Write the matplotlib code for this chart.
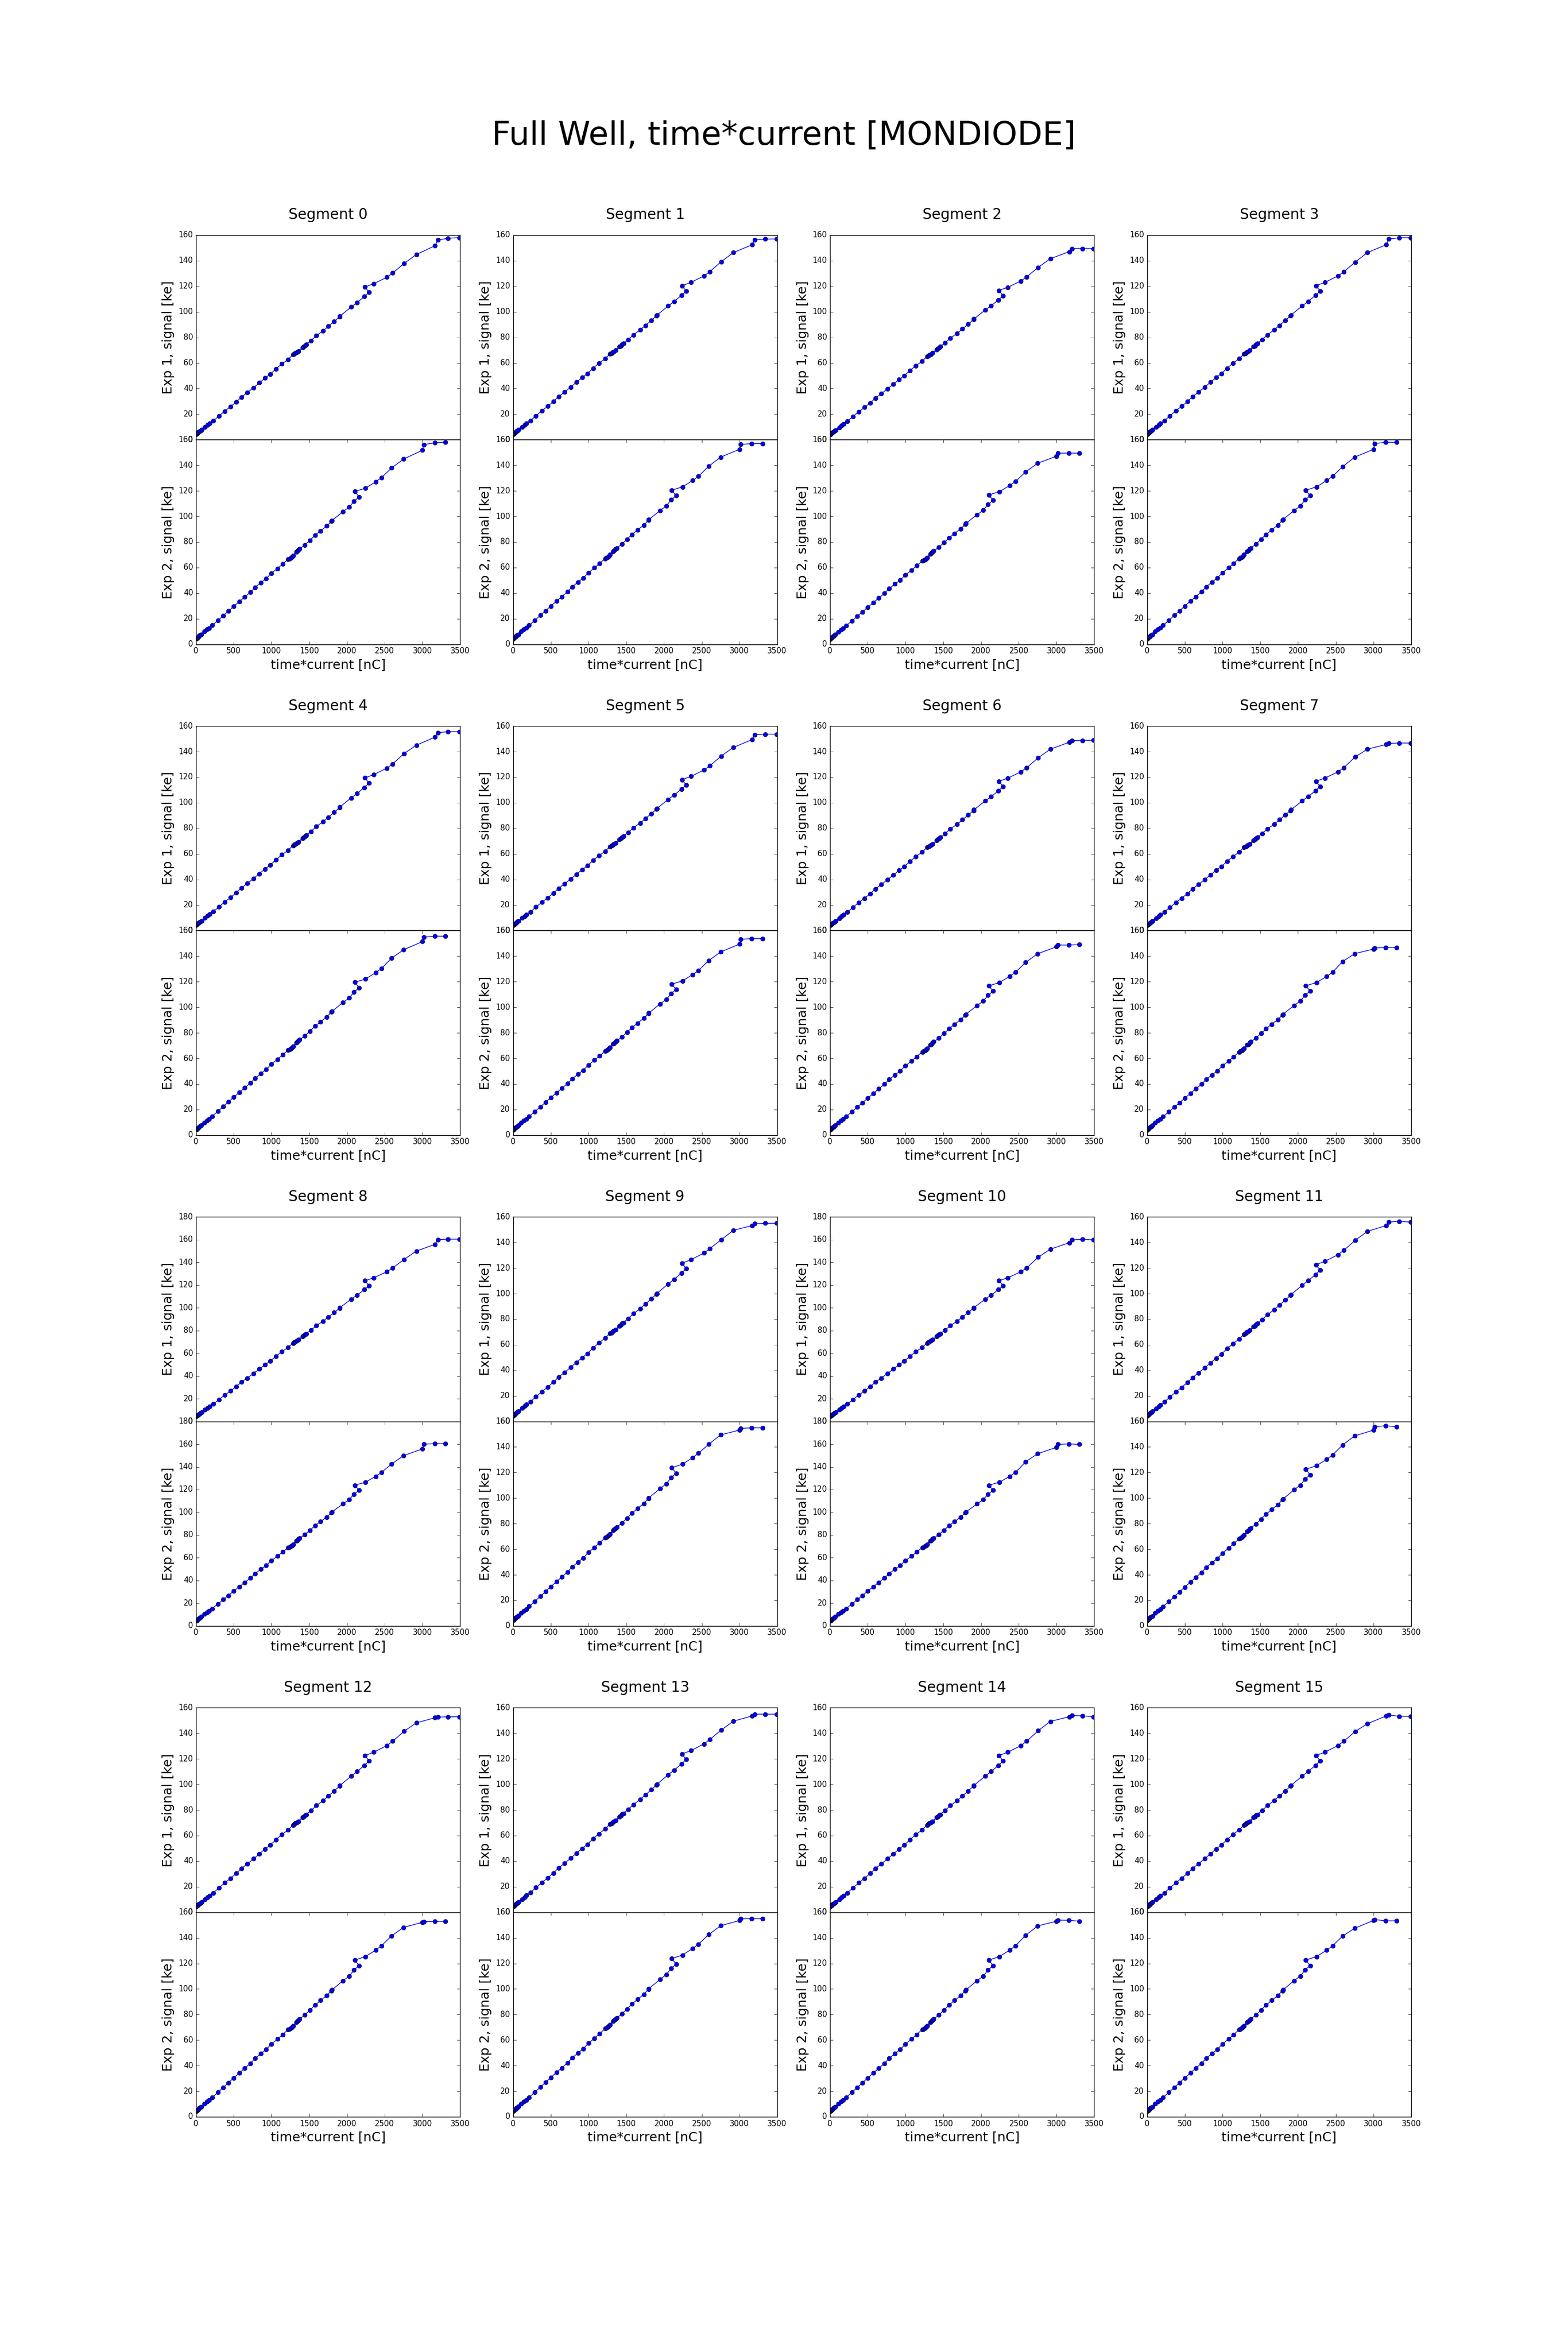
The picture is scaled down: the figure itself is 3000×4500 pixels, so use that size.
import matplotlib
matplotlib.use('Agg')
import matplotlib.pyplot as plt
from matplotlib import gridspec

plt.style.use('classic')

# time*current [nC] of every exposure, same for all segments
exp1_x = [2, 6, 10, 15, 21, 28, 37, 48, 60, 74, 121, 153, 178, 230, 304, 381, 458, 534,
          603, 680, 762, 839, 915, 984, 1061, 1137, 1220, 1285, 1302, 1318, 1335, 1359,
          1411, 1428, 1444, 1461, 1524, 1595, 1685, 1754, 1831, 1902, 1907, 2055, 2135,
          2231, 2294, 2239, 2357, 2529, 2606, 2757, 2919, 3168, 3204, 3341, 3491]
exp2_x = [2, 5, 9, 14, 20, 26, 35, 45, 57, 70, 110, 142, 173, 214, 290, 362, 430, 499,
          575, 644, 721, 784, 860, 929, 998, 1080, 1148, 1222, 1239, 1258, 1272, 1285,
          1329, 1343, 1359, 1373, 1441, 1510, 1578, 1650, 1732, 1795, 1800, 1948, 2031,
          2094, 2162, 2102, 2244, 2381, 2458, 2592, 2751, 3001, 3017, 3162, 3305]

# signal [ke] below full well, grouped by segment gain
linear_part = {
    'a': [4.1, 4.4, 4.7, 4.9, 5.2, 5.6, 6.0, 6.4, 6.9, 7.5, 9.7, 11.2, 12.4, 14.5, 18.2,
          21.9, 25.3, 28.9, 32.6, 36.1, 39.8, 43.5, 47.1, 50.1, 54.2, 57.9, 61.4, 65.1,
          65.6, 66.2, 66.9, 67.8, 70.5, 71.2, 72.2, 72.9, 75.8, 79.5, 83.2, 86.7, 90.4,
          94.0, 94.5, 101.4, 104.8, 109.4, 112.7, 116.8, 119.3, 124.2, 127.4],
    'b': [4.1, 4.4, 4.7, 4.9, 5.2, 5.6, 6.0, 6.5, 7.0, 7.6, 9.8, 11.4, 12.5, 14.6, 18.4,
          22.1, 25.6, 29.2, 33.0, 36.5, 40.2, 44.0, 47.6, 50.7, 54.8, 58.6, 62.0, 65.8,
          66.3, 67.0, 67.7, 68.6, 71.3, 72.0, 73.0, 73.7, 76.7, 80.4, 84.2, 87.6, 91.4,
          95.0, 95.5, 102.6, 106.0, 110.7, 113.9, 118.1, 120.6, 125.6, 128.8],
    'c': [4.2, 4.5, 4.8, 5.0, 5.3, 5.7, 6.1, 6.6, 7.1, 7.7, 9.9, 11.5, 12.7, 14.8, 18.6,
          22.4, 25.9, 29.6, 33.4, 36.9, 40.7, 44.5, 48.2, 51.3, 55.5, 59.3, 62.8, 66.6,
          67.1, 67.8, 68.5, 69.4, 72.2, 72.9, 73.9, 74.6, 77.6, 81.4, 85.2, 88.7, 92.5,
          96.2, 96.7, 103.8, 107.3, 112.0, 115.3, 119.5, 122.1, 127.1, 130.4],
    'd': [4.2, 4.5, 4.8, 5.0, 5.3, 5.7, 6.1, 6.7, 7.2, 7.8, 10.0, 11.6, 12.8, 14.9, 18.7,
          22.6, 26.1, 29.8, 33.7, 37.2, 41.0, 44.9, 48.6, 51.7, 55.9, 59.8, 63.3, 67.1,
          67.6, 68.3, 69.0, 70.0, 72.8, 73.5, 74.5, 75.2, 78.2, 82.1, 85.9, 89.4, 93.2,
          97.0, 97.5, 104.6, 108.2, 112.9, 116.2, 120.5, 123.1, 128.1, 131.4],
    'e': [4.3, 4.6, 4.9, 5.1, 5.4, 5.8, 6.3, 6.8, 7.3, 7.9, 10.2, 11.8, 13.0, 15.2, 19.1,
          23.0, 26.6, 30.4, 34.3, 37.9, 41.8, 45.7, 49.5, 52.6, 56.9, 60.8, 64.4, 68.3,
          68.8, 69.6, 70.3, 71.2, 74.1, 74.8, 75.8, 76.5, 79.6, 83.5, 87.4, 91.0, 94.9,
          98.7, 99.2, 106.5, 110.1, 114.9, 118.3, 122.6, 125.3, 130.4, 133.8],
    'f': [4.4, 4.7, 5.0, 5.2, 5.5, 5.9, 6.3, 6.8, 7.4, 8.0, 10.3, 11.9, 13.2, 15.3, 19.3,
          23.2, 26.8, 30.7, 34.6, 38.2, 42.2, 46.1, 49.9, 53.1, 57.5, 61.4, 65.1, 69.0,
          69.5, 70.2, 71.0, 71.9, 74.8, 75.5, 76.6, 77.3, 80.4, 84.3, 88.3, 91.9, 95.8,
          99.7, 100.2, 107.5, 111.2, 116.0, 119.5, 123.8, 126.5, 131.7, 135.1],
}
segment_level = ['c', 'd', 'a', 'd', 'c', 'b', 'a', 'a',
                 'f', 'f', 'f', 'e', 'e', 'f', 'e', 'e']

# last exposures, approaching full well
segment_tail = [
    [137.9, 144.9, 151.8, 156.2, 157.6, 158.1],
    [139.2, 146.4, 152.5, 156.3, 157.0, 157.0],
    [134.8, 141.6, 147.1, 149.5, 149.5, 149.5],
    [138.9, 146.4, 152.5, 157.0, 158.0, 158.0],
    [138.5, 145.0, 151.4, 154.8, 155.6, 155.6],
    [136.5, 143.3, 149.4, 153.2, 153.7, 153.7],
    [135.1, 141.9, 147.3, 148.7, 148.7, 149.0],
    [135.8, 141.9, 145.6, 146.4, 146.7, 146.7],
    [142.6, 149.9, 155.9, 160.0, 160.4, 160.4],
    [142.1, 149.5, 153.2, 154.6, 155.0, 155.0],
    [144.5, 151.6, 157.2, 159.8, 160.2, 159.8],
    [141.6, 148.7, 153.2, 155.9, 156.6, 155.9],
    [141.6, 148.2, 152.2, 152.7, 152.9, 152.9],
    [142.5, 149.5, 153.6, 155.0, 155.0, 155.0],
    [142.0, 149.3, 153.0, 153.9, 153.7, 153.0],
    [141.4, 147.5, 153.6, 154.3, 153.3, 153.3],
]

fig = plt.figure(figsize=(30, 45), dpi=100)
fig.suptitle('Full Well, time*current [MONDIODE]', fontsize=45, y=0.949, va='top')
outer = gridspec.GridSpec(4, 4, wspace=0.2, hspace=0.2,
                          left=0.125, right=0.9, top=0.9, bottom=0.1)

for seg in range(16):
    signal = linear_part[segment_level[seg]] + segment_tail[seg]
    inner = gridspec.GridSpecFromSubplotSpec(2, 1, subplot_spec=outer[seg], hspace=0)
    ax1 = fig.add_subplot(inner[0])
    ax2 = fig.add_subplot(inner[1])

    ax1.plot(exp1_x, signal, 'bo-', markersize=6, linewidth=1.0)
    ax2.plot(exp2_x, signal, 'bo-', markersize=6, linewidth=1.0)

    for ax in (ax1, ax2):
        ax.set_xlim(0, 3500)
        ax.tick_params(labelsize=10.5)
    ax1.tick_params(axis='x', which='both', bottom=False, top=False, labelbottom=False)

    ax1.set_title('Segment %d' % seg, fontsize=20, pad=22)
    ax1.set_ylabel('Exp 1, signal [ke]', fontsize=18)
    ax2.set_ylabel('Exp 2, signal [ke]', fontsize=18)
    ax2.set_xlabel('time*current [nC]', fontsize=18)

fig.savefig('out.png', dpi=100, facecolor='white')
